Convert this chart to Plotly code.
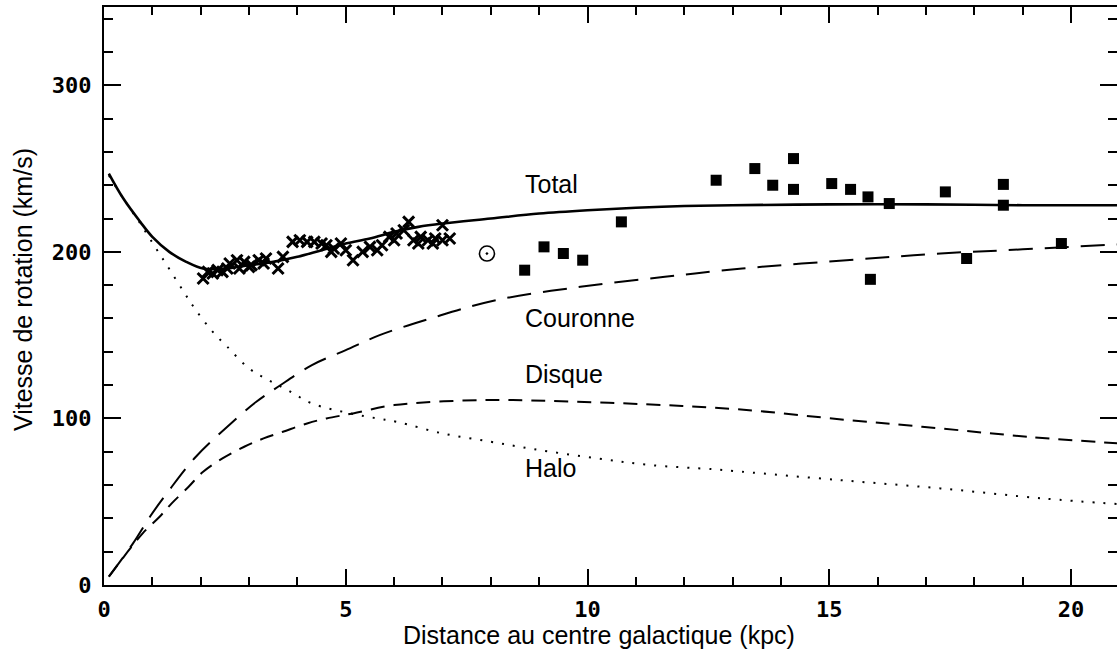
import plotly.graph_objects as go

# ---- data ----
total_x = [0.1, 0.4, 0.75, 1.0, 1.35, 1.7, 2.05, 2.5, 3.0, 3.5, 4.0, 4.5, 5.0, 5.5, 6.0, 6.5, 7.0, 8.0, 9.0, 10.0, 11.0, 12.0, 13.0, 15.0, 17.0, 19.0, 21.0]
total_y = [247, 232, 218, 209, 200, 194, 190, 190, 192, 194, 197, 201, 205, 208, 212, 215, 217, 220, 223, 225, 226.5, 227.5, 228, 228.5, 228.5, 228, 228]

couronne_x = [0.1, 0.6, 0.95, 1.35, 1.9, 2.55, 3.15, 3.6, 4.3, 5.0, 5.7, 6.75, 8.1, 9.85, 11.6, 13.2, 15.6, 17.3, 19.0, 21.0]
couronne_y = [5, 25, 41, 57, 77, 95, 110, 119, 132, 141, 150, 160, 171, 179, 185, 190, 195.5, 199, 201.5, 204.5]

disque_x = [0.1, 0.8, 1.15, 1.4, 1.75, 2.05, 2.45, 2.9, 3.3, 3.7, 4.2, 4.6, 5.15, 6.0, 7.8, 9.2, 11.2, 13.1, 15.4, 17.3, 19.1, 21.0]
disque_y = [5, 31, 41, 49, 59, 68, 76, 83, 88, 92, 97, 100, 103, 108, 111, 110.5, 108.5, 105.5, 99, 94, 89, 85]

halo_x = [0.1, 0.4, 0.75, 1.1, 1.3, 1.65, 1.9, 2.25, 2.55, 3.0, 3.4, 3.8, 4.3, 5.1, 5.65, 6.05, 7.0, 8.0, 8.9, 10.2, 11.3, 12.6, 13.2, 15.2, 17.3, 19.4, 21.0]
halo_y = [246, 232, 217, 201, 192, 176, 165, 152, 143, 130, 123, 117, 109, 103, 100, 98, 91, 86, 81.5, 76, 72, 69.5, 68, 63, 58, 52, 48.5]

cross_x = [2.05, 2.15, 2.25, 2.35, 2.45, 2.55, 2.6, 2.75, 2.9, 3.05, 3.2, 3.35, 2.8, 3.0, 3.3, 3.6, 3.7,
           3.9, 4.05, 4.2, 4.35, 4.5, 4.6, 4.75, 4.9, 5.0, 4.7, 5.15, 5.35, 5.5, 5.65, 5.75,
           5.9, 6.05, 6.2, 6.0, 6.3, 6.4, 6.55, 6.7, 6.85, 7.0, 7.15, 6.5, 6.8, 7.0]
cross_y = [184, 188, 187, 189, 188, 190, 193, 195, 194, 192, 195, 196, 190, 191, 193, 190, 197,
           206, 207, 206, 206, 205, 204, 202, 205, 201, 200, 195, 200, 203, 201, 204,
           209, 211, 213, 207, 218, 207, 209, 207, 208, 207, 208, 205, 205, 216]

square_x = [8.7, 9.1, 9.5, 9.9, 10.7, 12.66, 13.46, 13.83, 14.26, 14.26, 15.05, 15.44, 15.8, 15.85, 16.24, 17.4, 17.84, 18.6, 18.6, 19.8]
square_y = [189, 203, 199, 195, 218, 243, 250, 240, 256, 237.5, 241, 237.5, 233, 183.5, 229, 236, 196, 240.5, 228, 205]

sun_x = [7.92]
sun_y = [199]

labels = ["Total", "Couronne", "Disque", "Halo"]
label_x = [8.67, 8.67, 8.67, 8.67]
label_y = [240.5, 160, 126.5, 70]

x_ticks = [0, 5, 10, 15, 20]
y_ticks = [0, 100, 200, 300]

# ---- figure ----
fig = go.Figure()
fig.add_trace(go.Scatter(x=halo_x, y=halo_y, mode="lines", line=dict(color="black", width=2, dash="2px,9px", shape="spline"), name="Halo"))
fig.add_trace(go.Scatter(x=disque_x, y=disque_y, mode="lines", line=dict(color="black", width=2, dash="14px,9px", shape="spline"), name="Disque"))
fig.add_trace(go.Scatter(x=couronne_x, y=couronne_y, mode="lines", line=dict(color="black", width=2, dash="24px,12px", shape="spline"), name="Couronne"))
fig.add_trace(go.Scatter(x=total_x, y=total_y, mode="lines", line=dict(color="black", width=2.6, shape="spline"), name="Total"))
fig.add_trace(go.Scatter(x=cross_x, y=cross_y, mode="markers",
                         marker=dict(symbol="x-thin", size=11, color="black", line=dict(color="black", width=3)), name="HI"))
fig.add_trace(go.Scatter(x=square_x, y=square_y, mode="markers",
                         marker=dict(symbol="square", size=11, color="black"), name="obs"))
fig.add_trace(go.Scatter(x=sun_x, y=sun_y, mode="markers",
                         marker=dict(symbol="circle-open-dot", size=15, color="black", line=dict(color="black", width=1.6)), name="Soleil"))

for t, lx, ly in zip(labels, label_x, label_y):
    fig.add_annotation(x=lx, y=ly, text=t, showarrow=False, xanchor="left", yanchor="middle",
                       font=dict(family="Liberation Sans, Arial", size=25, color="black"))

fig.add_annotation(xref="paper", yref="paper", x=0.4887, y=-0.086, text="Distance au centre galactique (kpc)",
                   showarrow=False, xanchor="center", yanchor="middle",
                   font=dict(family="Liberation Sans, Arial", size=25, color="black"))
fig.add_annotation(xref="paper", yref="paper", x=-0.08, y=0.512, text="Vitesse de rotation (km/s)",
                   showarrow=False, xanchor="center", yanchor="middle", textangle=-90,
                   font=dict(family="Liberation Sans, Arial", size=25, color="black"))

tickfont = dict(family="DejaVu Sans Mono", size=22, color="black", weight="bold")
fig.update_xaxes(range=[0, 20.95], showline=True, linecolor="black", linewidth=2, mirror="allticks",
                 ticks="inside", ticklen=16, tickwidth=2, tickcolor="black", ticklabelstandoff=4,
                 tickvals=x_ticks, ticktext=[str(v) for v in x_ticks], tickfont=tickfont,
                 minor=dict(dtick=1, ticks="inside", ticklen=8, tickwidth=2, tickcolor="black"),
                 showgrid=False, zeroline=False)
fig.update_yaxes(range=[0, 347], showline=True, linecolor="black", linewidth=2, mirror="allticks",
                 ticks="inside", ticklen=17, tickwidth=2, tickcolor="black", ticklabelstandoff=6,
                 tickvals=y_ticks, ticktext=[str(v) for v in y_ticks], tickfont=tickfont,
                 minor=dict(dtick=20, ticks="inside", ticklen=9, tickwidth=2, tickcolor="black"),
                 showgrid=False, zeroline=False)
fig.update_layout(width=1117, height=655, margin=dict(l=104, r=0, t=7, b=70, autoexpand=False),
                  plot_bgcolor="white", paper_bgcolor="white", showlegend=False)

fig.write_html("out.html", config={"displayModeBar": False},
               post_script="document.body.style.margin='0';document.body.style.padding='0';")
